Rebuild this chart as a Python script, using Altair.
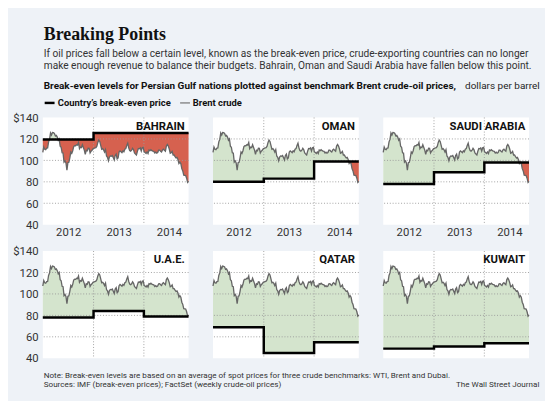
import altair as alt
import pandas as pd
import numpy as np

# ---------------- data ----------------
countries = ["BAHRAIN", "OMAN", "SAUDI ARABIA", "U.A.E.", "QATAR", "KUWAIT"]
# break-even prices for 2012, 2013, 2014
breakeven = {
    "BAHRAIN": [119.5, 125.5, 125.5],
    "OMAN": [80, 83, 99],
    "SAUDI ARABIA": [78, 89, 98],
    "U.A.E.": [78, 84, 79],
    "QATAR": [69, 45, 55],
    "KUWAIT": [49, 51, 54],
}
brent = [
    107.4,
    # 2012
    112.5, 110.4, 110.0, 111.5, 111.6, 117.3, 119.6, 125.5, 123.6, 126.0, 125.8, 125.1, 122.9,
    123.4, 121.7, 118.8, 120.0, 113.2, 112.3, 107.1, 106.8, 98.4, 99.5, 97.6, 90.9, 97.8,
    98.2, 102.4, 107.8, 106.5, 109.0, 112.9, 113.7, 113.6, 114.6, 114.3, 116.7, 110.9, 112.4,
    112.0, 114.6, 112.1, 109.6, 105.7, 109.4, 108.9, 111.4, 111.2, 107.0, 108.6, 109.4, 110.8,
    # 2013
    111.3, 111.6, 111.9, 113.3, 116.8, 118.9, 117.7, 114.0, 110.4, 110.9, 109.8, 107.8, 110.0,
    104.1, 102.9, 99.7, 103.2, 104.2, 103.9, 104.6, 102.6, 100.4, 104.6, 105.9, 101.3, 102.2,
    107.7, 108.8, 108.1, 107.2, 108.9, 108.0, 110.4, 111.0, 114.0, 116.1, 111.7, 109.2, 108.6,
    109.5, 111.3, 109.9, 106.9, 105.9, 105.1, 108.5, 111.1, 110.8, 111.6, 108.8, 111.8, 112.2,
    # 2014
    107.9, 107.3, 106.5, 107.9, 106.4, 109.6, 109.1, 110.0, 109.1, 108.6, 108.4, 106.9, 107.7,
    106.7, 107.3, 109.5, 109.6, 108.6, 107.9, 109.8, 110.5, 109.4, 108.6, 113.4, 114.8, 113.3,
    110.6, 106.7, 107.2, 108.4, 105.0, 105.0, 103.5, 102.3, 102.8, 100.8, 97.1, 98.4, 97.0,
    92.3, 90.2, 86.2, 86.1, 85.9, 83.4, 79.4, 80.4,
]
start_date = "2011-12-30"
dates = pd.date_range(start_date, periods=len(brent), freq="7D")
end_date = dates[-1].strftime("%Y-%m-%d")
year_starts = ["2013-01-01", "2014-01-01"]
y_ticks = [40, 60, 80, 100, 120, 140]
y_grid = [60, 80, 100, 120]
year_label_years = [2012, 2013, 2014]

# ---------------- style ----------------
BG = "#eef2f7"
GREEN = "#d4e4cd"
RED = "#d6614f"
LINE = "#666666"
FONT = "Roboto"
W = 155
H = 114

x_scale = alt.Scale(domain=[start_date, end_date])
y_scale = alt.Scale(domain=[40, 140], nice=False, zero=False)


def panel(name, top_row, first_col):
    be_vals = breakeven[name]
    be = [be_vals[min(max(d.year - 2012, 0), 2)] for d in dates]
    df = pd.DataFrame({
        "date": dates.strftime("%Y-%m-%d"),
        "brent": brent,
        "be": be,
    })
    df["hi"] = np.maximum(df["brent"], df["be"])
    df["lo"] = np.minimum(df["brent"], df["be"])
    step = pd.DataFrame({
        "date": [start_date, "2013-01-01", "2014-01-01", end_date],
        "v": [be_vals[0], be_vals[1], be_vals[2], be_vals[2]],
    })

    if top_row:
        x_axis = alt.Axis(values=[alt.DateTime(year=yr, month=7, date=2) for yr in year_label_years],
                          format="%Y", title=None, grid=False, ticks=False, domain=False,
                          labelPadding=3, labelFontSize=12, labelColor="#333", labelFont=FONT)
    else:
        x_axis = None
    if first_col:
        y_axis = alt.Axis(values=y_ticks, title=None, grid=False, ticks=False, domain=False,
                          labelPadding=5, labelFontSize=12, labelColor="#333", labelFont=FONT,
                          labelExpr="datum.value == 140 ? '$140' : datum.label")
    else:
        y_axis = None

    X = lambda f: alt.X(f, scale=x_scale, axis=x_axis)
    Y = lambda f: alt.Y(f, scale=y_scale, axis=y_axis)

    base = alt.Chart(df)
    green = base.mark_area(color=GREEN, opacity=1).encode(x=X("date:T"), y=Y("hi:Q"), y2="be:Q")
    red = base.mark_area(color=RED, opacity=1).encode(x=X("date:T"), y=Y("lo:Q"), y2="be:Q")
    hgrid = alt.Chart(pd.DataFrame({"v": y_grid})).mark_rule(
        color="#9a9a9a", strokeDash=[1, 2], strokeWidth=1
    ).encode(y=Y("v:Q"))
    vgrid = alt.Chart(pd.DataFrame({"d": year_starts})).mark_rule(
        color="#9a9a9a", strokeDash=[1, 2], strokeWidth=1
    ).encode(x=X("d:T"))
    line = base.mark_line(color=LINE, strokeWidth=1.4).encode(x=X("date:T"), y=Y("brent:Q"))
    be_line = alt.Chart(step).mark_line(
        color="black", strokeWidth=2.6, interpolate="step-after"
    ).encode(x=X("date:T"), y=Y("v:Q"))
    label = alt.Chart(alt.Data(values=[{}])).mark_text(
        text=name, align="right", baseline="middle", font=FONT, fontSize=12,
        fontWeight="bold", color="#111"
    ).encode(x=alt.value(W - 4), y=alt.value(9))
    return alt.layer(green, red, hgrid, vgrid, line, be_line, label).properties(
        width=W, height=H, view=alt.ViewBackground(fill="white", strokeWidth=0)
    )


row1 = alt.hconcat(*[panel(c, True, i == 0) for i, c in enumerate(countries[:3])], spacing=14)
row2 = alt.hconcat(*[panel(c, False, i == 0) for i, c in enumerate(countries[3:])], spacing=14)

# ---------------- header / footer text ----------------
title_text = "Breaking Points"
sub1 = "If oil prices fall below a certain level, known as the break-even price, crude-exporting countries can no longer"
sub2 = "make enough revenue to balance their budgets. Bahrain, Oman and Saudi Arabia have fallen below this point."
bold_line = "Break-even levels for Persian Gulf nations plotted against benchmark Brent crude-oil prices,"
normal_line = "dollars per barrel"
legend_be = "Country\u2019s break-even price"
legend_brent = "Brent crude"
note = "Note: Break-even levels are based on an average of spot prices for three crude benchmarks: WTI, Brent and Dubai."
sources = "Sources: IMF (break-even prices); FactSet (weekly crude-oil prices)"
credit = "The Wall Street Journal"

one = alt.Data(values=[{}])


def txt(s, x, y, size, weight="normal", font=FONT, color="#222", align="left", baseline="middle"):
    return alt.Chart(one).mark_text(
        text=s, align=align, baseline=baseline, font=font, fontSize=size,
        fontWeight=weight, color=color
    ).encode(x=alt.value(x), y=alt.value(y))


def seg(x1, x2, y, color, width):
    return alt.Chart(one).mark_rule(color=color, strokeWidth=width).encode(
        x=alt.value(x1), x2=alt.value(x2), y=alt.value(y)
    )


header = alt.layer(
    txt(title_text, 1, 17, 19, "bold", "Liberation Serif", "#111", baseline="alphabetic"),
    txt(sub1, 1, 32, 10.8, color="#333"),
    txt(sub2, 1, 44.8, 10.8, color="#333"),
    txt(bold_line, 1, 65.7, 10.6, "bold", color="#111"),
    txt(normal_line, 449, 65.7, 10.6, color="#222"),
    seg(2, 12.5, 83.5, "black", 2.6),
    txt(legend_be, 16, 83.5, 10, "bold", color="#111"),
    seg(146, 156.5, 83.5, "#777", 1.3),
    txt(legend_brent, 159.5, 83.5, 10, "bold", color="#111"),
).properties(width=525, height=88)

footer = alt.layer(
    txt(note, 1, 7.6, 8.6, color="#333"),
    txt(sources, 1, 17.9, 8.6, color="#333"),
    txt(credit, 528, 17.9, 8.6, color="#333", align="right"),
).properties(width=525, height=22)

chart = alt.vconcat(
    header,
    alt.vconcat(row1, row2, spacing=8),
    footer,
    spacing=4,
).properties(
    background=BG,
    padding={"left": 5, "top": 5, "right": 5, "bottom": 0},
).configure_view(strokeWidth=0)

chart.save("out.html", embed_options={"renderer": "svg", "actions": False})
